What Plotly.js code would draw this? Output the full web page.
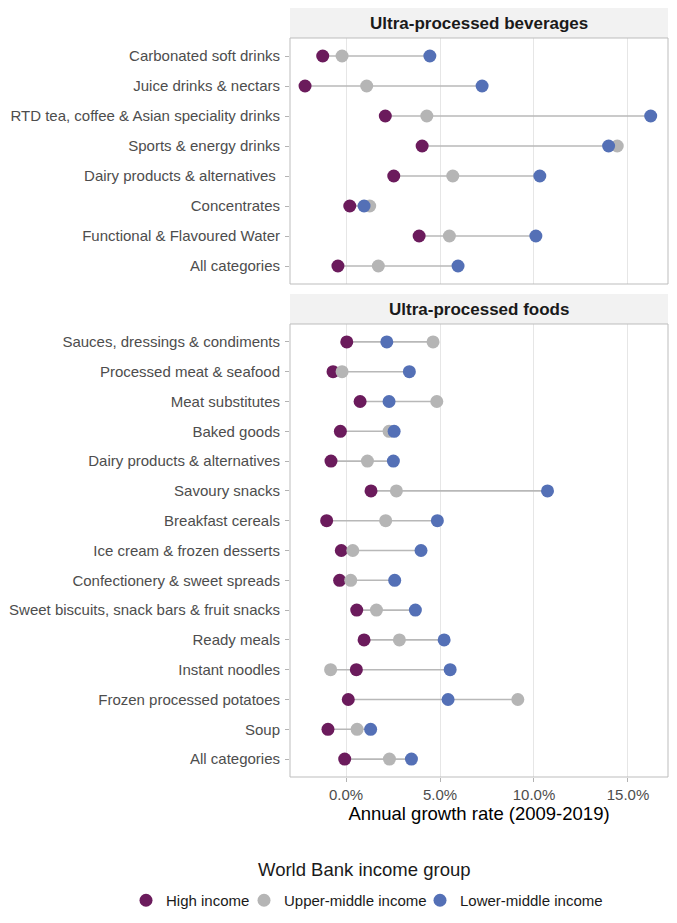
<!DOCTYPE html>
<html>
<head>
<meta charset="utf-8">
<script src="https://cdn.plot.ly/plotly-3.0.1.min.js"></script>
<style>html,body{margin:0;padding:0;background:#fff;}#chart{width:677px;height:923px;}</style>
</head>
<body>
<div id="chart"></div>
<script>
// Ultra-processed beverages
const bevCategories = ["Carbonated soft drinks", "Juice drinks & nectars", "RTD tea, coffee & Asian speciality drinks", "Sports & energy drinks", "Dairy products & alternatives ", "Concentrates", "Functional & Flavoured Water", "All categories"];
const bevHigh  = [-1.24, -2.18, 2.09, 4.05, 2.54, 0.20, 3.89, -0.43];
const bevUpper = [-0.21, 1.10, 4.30, 14.43, 5.68, 1.26, 5.50, 1.72];
const bevLower = [4.46, 7.24, 16.21, 13.97, 10.31, 0.96, 10.10, 5.96];

// Ultra-processed foods
const foodCategories = ["Sauces, dressings & condiments", "Processed meat & seafood", "Meat substitutes", "Baked goods", "Dairy products & alternatives", "Savoury snacks", "Breakfast cereals", "Ice cream & frozen desserts", "Confectionery & sweet spreads", "Sweet biscuits, snack bars & fruit snacks", "Ready meals", "Instant noodles", "Frozen processed potatoes", "Soup", "All categories"];
const foodHigh  = [0.04, -0.69, 0.75, -0.30, -0.80, 1.33, -1.03, -0.25, -0.34, 0.57, 0.96, 0.55, 0.12, -0.96, -0.07];
const foodUpper = [4.63, -0.21, 4.83, 2.29, 1.14, 2.68, 2.11, 0.36, 0.25, 1.62, 2.84, -0.82, 9.14, 0.59, 2.31];
const foodLower = [2.17, 3.37, 2.29, 2.56, 2.52, 10.72, 4.86, 3.99, 2.59, 3.69, 5.22, 5.54, 5.43, 1.31, 3.48];

const xTickVals = [0, 5, 10, 15];
const xTickText = ["0.0%", "5.0%", "10.0%", "15.0%"];
const groupNames = ["High income", "Upper-middle income", "Lower-middle income"];
const facetTitles = ["Ultra-processed beverages", "Ultra-processed foods"];

const colors = ["#6B1B5C", "#B5B5B5", "#5470B6"];
const legendIds = ["legend", "legend2", "legend3"];

function segTrace(cats, a, b, c, ya) {
  const xs = [], ys = [];
  cats.forEach((cat, i) => {
    const vals = [a[i], b[i], c[i]];
    xs.push(Math.min(...vals), Math.max(...vals), null);
    ys.push(cat, cat, null);
  });
  return {type: "scatter", mode: "lines", x: xs, y: ys, xaxis: "x" + (ya === "y" ? "" : "2"), yaxis: ya,
    line: {color: "#B8B8B8", width: 1.6}, showlegend: false, hoverinfo: "skip"};
}

function ptTrace(cats, vals, gi, ya, show) {
  return {type: "scatter", mode: "markers", x: vals, y: cats, name: groupNames[gi], legend: legendIds[gi],
    xaxis: "x" + (ya === "y" ? "" : "2"), yaxis: ya, showlegend: show,
    marker: {color: colors[gi], size: 13, line: {width: 0}}};
}

const traces = [
  segTrace(bevCategories, bevHigh, bevUpper, bevLower, "y"),
  segTrace(foodCategories, foodHigh, foodUpper, foodLower, "y2"),
  ptTrace(bevCategories, bevHigh, 0, "y", true),
  ptTrace(bevCategories, bevUpper, 1, "y", true),
  ptTrace(bevCategories, bevLower, 2, "y", true),
  ptTrace(foodCategories, foodHigh, 0, "y2", false),
  ptTrace(foodCategories, foodUpper, 1, "y2", false),
  ptTrace(foodCategories, foodLower, 2, "y2", false)
];

const PH = 777; // plot-area height (paper), bottom margin below
const PL = 290, PW = 378;
const p = v => 1 - v / PH;
const px = v => (v - PL) / PW;
const xRange = [-2.98, 17.13];
const tickFont = {family: "Liberation Sans, Arial, sans-serif", size: 15, color: "#4D4D4D"};

const xBase = {range: xRange, tickvals: xTickVals, ticktext: xTickText, showgrid: true, gridcolor: "#E6E6E6", gridwidth: 1,
  zeroline: false, showline: false, ticks: "outside", ticklen: 4, tickcolor: "#B3B3B3", tickwidth: 1, tickfont: tickFont, fixedrange: true};
const yBase = {type: "category", showgrid: false, zeroline: false, showline: false, ticks: "outside", ticklen: 4,
  tickcolor: "#B3B3B3", tickwidth: 1, tickfont: tickFont, ticklabelstandoff: 2, fixedrange: true};

function legendAt(left) {
  return {orientation: "h", x: px(left), xanchor: "left", y: p(884), yanchor: "top",
    font: {size: 15, color: "#1A1A1A"}, itemsizing: "trace", bgcolor: "rgba(0,0,0,0)", tracegroupgap: 0};
}

const layout = {
  width: 677, height: 923,
  margin: {l: PL, r: 677 - PL - PW, t: 0, b: 923 - PH},
  paper_bgcolor: "#fff", plot_bgcolor: "#fff",
  font: {family: "Liberation Sans, Arial, sans-serif", color: "#000"},
  xaxis: Object.assign({}, xBase, {anchor: "y", showticklabels: false, ticks: ""}),
  yaxis: Object.assign({}, yBase, {domain: [p(284), p(38)], categoryarray: bevCategories, categoryorder: "array",
    range: [bevCategories.length - 0.4, -0.6]}),
  xaxis2: Object.assign({}, xBase, {anchor: "y2", matches: "x",
    title: {text: "Annual growth rate (2009-2019)", font: {size: 18.5, color: "#000"}, standoff: 2}}),
  yaxis2: Object.assign({}, yBase, {domain: [0, p(324)], categoryarray: foodCategories, categoryorder: "array",
    range: [foodCategories.length - 0.4, -0.6]}),
  shapes: [
    {type: "rect", xref: "paper", yref: "paper", x0: 0, x1: 1, y0: p(38), y1: p(8), fillcolor: "#F2F2F2", line: {width: 0}, layer: "below"},
    {type: "rect", xref: "paper", yref: "paper", x0: 0, x1: 1, y0: p(324), y1: p(294), fillcolor: "#F2F2F2", line: {width: 0}, layer: "below"},
    {type: "rect", xref: "paper", yref: "paper", x0: 0, x1: 1, y0: p(284), y1: p(38), line: {color: "#BDBDBD", width: 1}, layer: "above"},
    {type: "rect", xref: "paper", yref: "paper", x0: 0, x1: 1, y0: 0, y1: p(324), line: {color: "#BDBDBD", width: 1}, layer: "above"}
  ],
  annotations: [
    {xref: "paper", yref: "paper", x: 0.5, y: p(23), text: "<b>" + facetTitles[0] + "</b>", showarrow: false,
      font: {size: 17, color: "#1A1A1A"}, xanchor: "center", yanchor: "middle"},
    {xref: "paper", yref: "paper", x: 0.5, y: p(309), text: "<b>" + facetTitles[1] + "</b>", showarrow: false,
      font: {size: 17, color: "#1A1A1A"}, xanchor: "center", yanchor: "middle"},
    {xref: "paper", yref: "paper", x: px(364), y: p(869), text: "World Bank income group", showarrow: false,
      font: {size: 18.5, color: "#1A1A1A"}, xanchor: "center", yanchor: "middle"}
  ],
  legend: legendAt(126),
  legend2: legendAt(244),
  legend3: legendAt(420)
};

Plotly.newPlot("chart", traces, layout, {displayModeBar: false, staticPlot: true});
</script>
</body>
</html>
